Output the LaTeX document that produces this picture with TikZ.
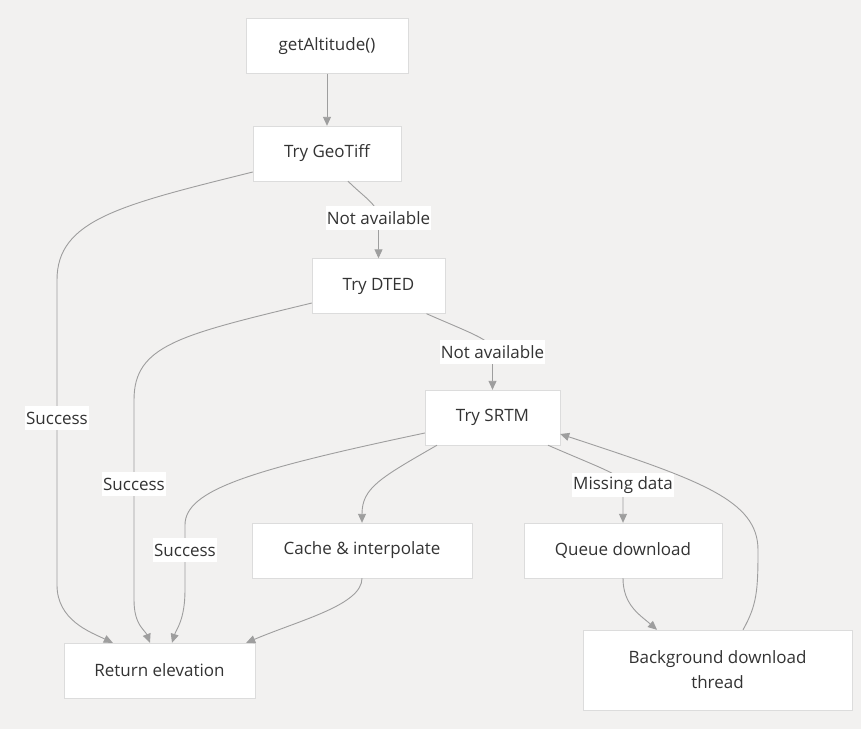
\documentclass[tikz,border=0pt]{standalone}
\usepackage{fontspec}
\setmainfont{Open Sans}
\usetikzlibrary{arrows.meta}
\definecolor{flowbg}{HTML}{F2F1F0}
\definecolor{flowline}{HTML}{9E9E9E}
\definecolor{flowframe}{HTML}{DCDCDC}
\definecolor{flowtext}{HTML}{333333}
\tikzset{
  stepbox/.style={draw=flowframe, fill=white, align=center, minimum height=55pt, font=\fontsize{17}{25}\selectfont, text=flowtext},
  lbl/.style={fill=white, inner xsep=1pt, inner ysep=0pt, minimum height=24pt, font=\fontsize{17}{20}\selectfont, text=flowtext},
  arrow/.style={-{Triangle[width=8pt,length=9pt]}, draw=flowline, line width=0.9pt}
}

\begin{document}
\begin{tikzpicture}[x=1pt,y=-1pt]
\useasboundingbox (0,0) rectangle (861,729);
\fill[flowbg] (0,0) rectangle (861,729);
% boxes
\node[stepbox, minimum width=162pt] (start) at (327,46) {getAltitude()};
\node[stepbox, minimum width=148pt] (geotiff) at (327,153.5) {Try GeoTiff};
\node[stepbox, minimum width=133pt] (dted) at (378.5,286) {Try DTED};
\node[stepbox, minimum width=135pt] (srtm) at (492.5,417.5) {Try SRTM};
\node[stepbox, minimum width=220pt] (cache) at (362,550.5) {Cache \& interpolate};
\node[stepbox, minimum width=198pt] (queue) at (623,550.5) {Queue download};
\node[stepbox, minimum width=191pt] (ret) at (159.5,670.5) {Return elevation};
\node[stepbox, minimum width=269pt, minimum height=80pt] (bgthread) at (717.5,670) {Background download\\thread};
% connectors
\draw[arrow] (start) -- (geotiff);
\draw[arrow] ([xshift=21pt]geotiff.south) .. controls (365,198) and (378.5,205) .. (378.5,218) node[lbl] {Not available} -- (dted.north);
\draw[arrow] ([xshift=48pt]dted.south) .. controls (475,335) and (492.5,340) .. (492.5,352) node[lbl] {Not available} -- (srtm.north);
\draw[arrow] ([yshift=-18.5pt]geotiff.west) .. controls (120,205) and (57,220) .. (57,280) -- (57,418) node[lbl] {Success} -- (57,585) .. controls (57,620) and (90,632) .. ([xshift=49pt]ret.north west);
\draw[arrow] ([yshift=-17pt]dted.west) .. controls (180,335) and (134,345) .. (134,400) -- (134,484) node[lbl] {Success} -- (134,600) .. controls (134,625) and (145,630) .. ([xshift=-9.5pt]ret.north);
\draw[arrow] ([yshift=-15.5pt]srtm.west) .. controls (250,470) and (185,490) .. (185,525) -- (185,550) node[lbl] {Success} -- (185,590) .. controls (185,620) and (176,630) .. ([xshift=12.5pt]ret.north);
\draw[arrow] ([xshift=-55.5pt]srtm.south) .. controls (380,478) and (362,488) .. (cache.north);
\draw[arrow] ([xshift=55.5pt]srtm.south) .. controls (605,470) and (623,475) .. (623,485) node[lbl] {Missing data} -- (queue.north);
\draw[arrow] (cache.south) .. controls (362,605) and (300,620) .. ([xshift=-9pt]ret.north east);
\draw[arrow] (queue.south) .. controls (623,605) and (640,615) .. ([xshift=-60.5pt]bgthread.north);
\draw[arrow] ([xshift=25.5pt]bgthread.north) .. controls (757,605) and (758,590) .. (758,550) .. controls (758,500) and (700,480) .. ([yshift=-16.5pt]srtm.east);
\end{tikzpicture}
\end{document}
